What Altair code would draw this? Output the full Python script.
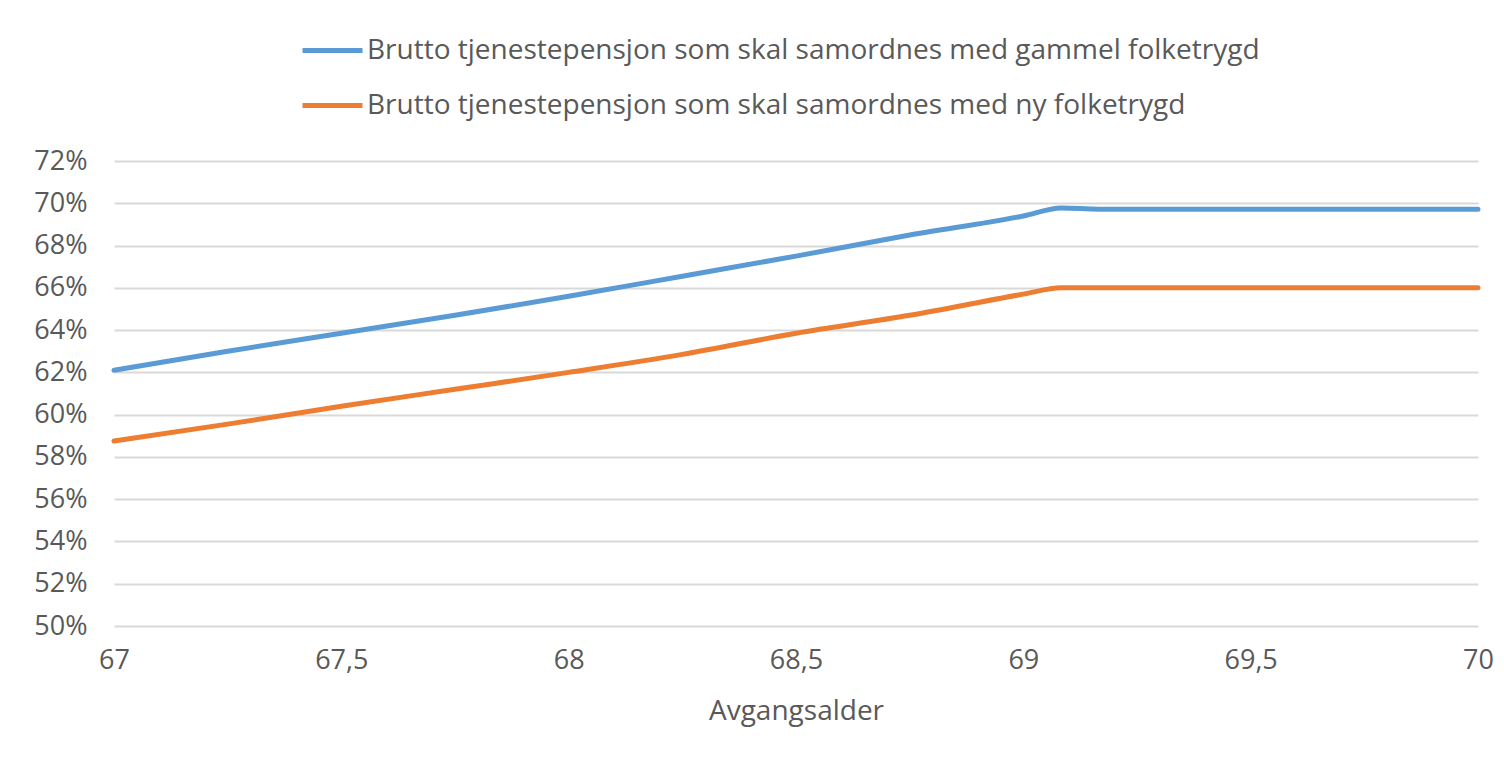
import altair as alt
import pandas as pd

ages = [67, 67.25, 67.5, 67.75, 68, 68.25, 68.5, 68.75, 69, 69.0833, 69.1667, 69.5, 70]
gammel = [62.1, 63.0, 63.85, 64.7, 65.6, 66.55, 67.5, 68.5, 69.4, 69.78, 69.72, 69.72, 69.72]
ny = [58.75, 59.55, 60.4, 61.2, 62.0, 62.85, 63.85, 64.7, 65.7, 66.0, 66.0, 66.0, 66.0]

s1 = "Brutto tjenestepensjon som skal samordnes med gammel folketrygd"
s2 = "Brutto tjenestepensjon som skal samordnes med ny folketrygd"

rows = []
for a, g, n in zip(ages, gammel, ny):
    rows.append({"age": a, "val": g / 100, "serie": s1})
    rows.append({"age": a, "val": n / 100, "serie": s2})
df = pd.DataFrame(rows)

FONT = "Open Sans"
TXT = "#595959"

chart = alt.Chart(df).mark_line(strokeWidth=5, interpolate="monotone", strokeCap="round").encode(
    x=alt.X("age:Q", title="Avgangsalder",
            scale=alt.Scale(domain=[67, 70], nice=False, zero=False),
            axis=alt.Axis(values=[67, 67.5, 68, 68.5, 69, 69.5, 70],
                          labelExpr="replace(toString(datum.value), '.', ',')",
                          grid=False, domain=False, ticks=False, labelFlush=False,
                          labelPadding=21, titlePadding=24,
                          labelFontSize=27, titleFontSize=28, titleFontWeight="normal",
                          labelColor=TXT, titleColor=TXT, labelFont=FONT, titleFont=FONT)),
    y=alt.Y("val:Q", title=None,
            scale=alt.Scale(domain=[0.50, 0.72], nice=False, zero=False),
            axis=alt.Axis(values=[0.50 + 0.02 * i for i in range(12)], format=".0%",
                          grid=True, gridColor="#d9d9d9", gridWidth=2,
                          domain=False, ticks=False, labelPadding=27,
                          labelFontSize=27, labelColor=TXT, labelFont=FONT)),
    color=alt.Color("serie:N", sort=[s1, s2],
                    scale=alt.Scale(domain=[s1, s2], range=["#5B9BD5", "#ED7D31"]),
                    legend=alt.Legend(title=None, orient="none", legendX=186, legendY=-143,
                                      direction="vertical", symbolType="stroke",
                                      symbolSize=3600, symbolStrokeWidth=5,
                                      labelFontSize=28, labelFont=FONT, labelColor=TXT,
                                      labelOffset=2, rowPadding=8, labelLimit=1200)),
).properties(
    width=1364, height=465,
    padding={"left": 106, "top": 153, "right": 18, "bottom": 125},
    autosize=alt.AutoSizeParams(type="none"),
).configure_view(stroke=None)

chart.save("out.html", embed_options={"renderer": "svg", "actions": False})
